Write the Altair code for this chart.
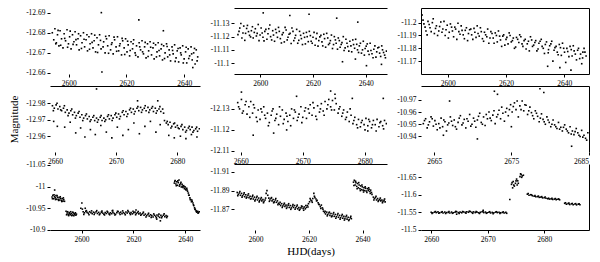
import altair as alt
import pandas as pd

# ---------------- data: (HJD, magnitude) ----------------
P11 = [(2594.3,-12.6800),(2594.8,-12.6765),(2595.2,-12.6820),(2595.7,-12.6750),(2596.1,-12.6790),(2596.6,-12.6735),
(2597.0,-12.6810),(2597.5,-12.6770),(2598.0,-12.6725),(2598.4,-12.6795),(2598.9,-12.6760),(2599.4,-12.6815),(2599.9,-12.6745),
(2600.3,-12.6780),(2600.8,-12.6720),(2601.3,-12.6790),(2601.8,-12.6755),(2602.2,-12.6805),(2602.7,-12.6740),(2603.2,-12.6770),
(2603.6,-12.6715),(2604.1,-12.6785),(2604.6,-12.6750),(2605.1,-12.6800),(2605.5,-12.6730),(2606.0,-12.6765),(2606.5,-12.6710),
(2607.0,-12.6780),(2607.4,-12.6745),(2607.9,-12.6795),(2608.4,-12.6725),(2608.8,-12.6760),(2609.3,-12.6705),(2609.8,-12.6775),
(2610.3,-12.6740),(2610.7,-12.6790),(2611.2,-12.6720),(2611.3,-12.6900),(2611.5,-12.6605),(2612.1,-12.6755),(2612.6,-12.6700),
(2613.1,-12.6770),(2613.5,-12.6735),(2614.0,-12.6785),(2614.5,-12.6715),(2615.0,-12.6750),(2615.4,-12.6695),(2615.9,-12.6765),
(2616.4,-12.6730),(2616.9,-12.6780),(2617.3,-12.6710),(2617.8,-12.6745),(2618.3,-12.6690),(2618.7,-12.6760),(2619.2,-12.6725),
(2619.7,-12.6770),(2620.2,-12.6705),(2620.6,-12.6740),(2621.1,-12.6685),(2621.6,-12.6755),(2622.1,-12.6720),(2622.5,-12.6765),
(2623.0,-12.6700),(2623.5,-12.6735),(2624.0,-12.6680),(2624.3,-12.6864),(2624.4,-12.6750),(2624.9,-12.6715),(2625.4,-12.6760),
(2625.9,-12.6695),(2626.3,-12.6730),(2626.8,-12.6675),(2627.3,-12.6745),(2627.7,-12.6710),(2628.2,-12.6755),(2628.7,-12.6690),
(2629.2,-12.6725),(2629.6,-12.6670),(2630.1,-12.6740),(2630.6,-12.6705),(2631.0,-12.6750),(2631.5,-12.6685),(2632.0,-12.6720),
(2632.5,-12.6665),(2632.8,-12.6810),(2632.9,-12.6735),(2633.4,-12.6700),(2633.9,-12.6745),(2634.3,-12.6680),(2634.8,-12.6715),
(2635.3,-12.6660),(2635.8,-12.6730),(2636.2,-12.6695),(2636.7,-12.6740),(2637.2,-12.6675),(2637.6,-12.6710),(2638.1,-12.6655),
(2638.6,-12.6725),(2639.0,-12.6690),(2639.5,-12.6735),(2640.0,-12.6670),(2640.5,-12.6705),(2640.9,-12.6650),(2641.4,-12.6720),
(2641.9,-12.6685),(2642.4,-12.6730),(2642.8,-12.6665),(2643.0,-12.6627),(2643.3,-12.6700),(2643.8,-12.6645),(2644.2,-12.6715),
(2644.7,-12.6680),
(2595.5,-12.6745),(2596.3,-12.6812),(2597.2,-12.6738),(2598.6,-12.6772),(2599.6,-12.6728),(2600.5,-12.6808),(2601.5,-12.6742),
(2602.5,-12.6766),(2603.4,-12.6795),(2604.4,-12.6722),(2605.3,-12.6768),(2606.3,-12.6790),(2607.2,-12.6718),(2608.1,-12.6752),
(2609.0,-12.6788),(2610.0,-12.6702),(2611.0,-12.6762),(2611.9,-12.6730),(2612.8,-12.6782),(2613.8,-12.6698),(2614.8,-12.6742),
(2615.7,-12.6778),(2616.6,-12.6708),(2617.6,-12.6735),(2618.5,-12.6772),(2619.4,-12.6692),(2620.4,-12.6758),(2621.3,-12.6712),
(2622.3,-12.6745),(2623.2,-12.6688),(2624.6,-12.6730),(2625.6,-12.6705),(2626.5,-12.6752),(2627.5,-12.6682),(2628.4,-12.6728),
(2629.4,-12.6748),(2630.4,-12.6680),(2631.3,-12.6712),(2632.2,-12.6742),(2633.2,-12.6672),(2634.1,-12.6732),(2635.0,-12.6690),
(2636.0,-12.6712),(2636.9,-12.6658),(2637.9,-12.6722),(2638.8,-12.6700),(2639.7,-12.6650),(2640.7,-12.6728),(2641.6,-12.6672),
(2642.6,-12.6695),(2643.6,-12.6722),(2644.5,-12.6660)]

P12 = [(2591.5,-11.1215),(2592.2,-11.1265),(2593.0,-11.1190),(2593.7,-11.1280),(2594.4,-11.1225),(2595.1,-11.1285),
(2595.9,-11.1210),(2596.6,-11.1245),(2597.3,-11.1190),(2598.1,-11.1260),(2598.8,-11.1225),(2599.5,-11.1170),(2600.3,-11.1265),
(2601.0,-11.1195),(2601.1,-11.1380),(2601.7,-11.1240),(2602.5,-11.1180),(2603.2,-11.1260),(2603.9,-11.1200),(2604.7,-11.1245),
(2605.4,-11.1165),(2606.1,-11.1230),(2606.9,-11.1270),(2607.6,-11.1185),(2608.3,-11.1215),(2609.1,-11.1160),(2609.8,-11.1250),
(2610.5,-11.1195),(2611.2,-11.1360),(2611.3,-11.1225),(2612.0,-11.1265),(2612.7,-11.1170),(2613.4,-11.1210),(2614.2,-11.1150),
(2614.9,-11.1240),(2615.6,-11.1185),(2616.4,-11.1225),(2617.1,-11.1145),(2617.8,-11.1200),(2618.5,-11.1370),(2618.6,-11.1240),
(2619.3,-11.1165),(2620.0,-11.1195),(2620.8,-11.1135),(2621.5,-11.1225),(2622.2,-11.1170),(2623.0,-11.1210),(2623.7,-11.1130),
(2624.4,-11.1185),(2625.2,-11.1225),(2625.9,-11.1140),(2626.6,-11.1170),(2627.4,-11.1110),(2628.1,-11.1200),(2628.8,-11.1150),
(2629.0,-11.1340),(2629.6,-11.1190),(2630.3,-11.1120),(2631.0,-11.1155),(2631.2,-11.1010),(2631.8,-11.1095),(2632.5,-11.1180),
(2633.2,-11.1125),(2634.0,-11.1165),(2634.7,-11.1085),(2635.4,-11.1140),(2636.1,-11.1030),(2636.2,-11.1180),(2636.9,-11.1100),
(2637.0,-11.1310),(2637.6,-11.1130),(2638.4,-11.1075),(2639.1,-11.1165),(2639.8,-11.1110),(2640.3,-11.0980),(2640.6,-11.1145),
(2641.3,-11.1065),(2642.0,-11.1095),(2642.8,-11.1040),(2643.5,-11.1130),(2644.2,-11.1085),(2645.0,-11.1120),(2645.7,-11.1050),
(2646.0,-11.0990),(2646.4,-11.1100),(2647.2,-11.1060),(2647.9,-11.1090),
(2591.9,-11.1240),(2592.6,-11.1300),(2593.4,-11.1228),(2594.1,-11.1172),(2594.8,-11.1262),(2595.5,-11.1238),(2596.3,-11.1198),
(2597.0,-11.1275),(2597.7,-11.1232),(2598.5,-11.1205),(2599.2,-11.1292),(2599.9,-11.1212),(2600.7,-11.1228),(2601.4,-11.1168),
(2602.1,-11.1255),(2602.9,-11.1222),(2603.6,-11.1288),(2604.3,-11.1175),(2605.0,-11.1212),(2605.8,-11.1255),(2606.5,-11.1195),
(2607.2,-11.1240),(2608.0,-11.1152),(2608.7,-11.1230),(2609.4,-11.1270),(2610.2,-11.1175),(2610.9,-11.1218),(2611.7,-11.1148),
(2612.4,-11.1240),(2613.1,-11.1190),(2613.8,-11.1255),(2614.6,-11.1172),(2615.3,-11.1210),(2616.0,-11.1140),(2616.8,-11.1195),
(2617.5,-11.1232),(2618.2,-11.1162),(2619.0,-11.1208),(2619.7,-11.1150),(2620.4,-11.1232),(2621.2,-11.1185),(2621.9,-11.1128),
(2622.6,-11.1198),(2623.4,-11.1160),(2624.1,-11.1218),(2624.8,-11.1120),(2625.6,-11.1190),(2626.3,-11.1150),(2627.0,-11.1212),
(2627.8,-11.1140),(2628.5,-11.1175),(2629.3,-11.1105),(2630.0,-11.1170),(2630.7,-11.1140),(2631.5,-11.1200),(2632.2,-11.1115),
(2632.9,-11.1150),(2633.6,-11.1090),(2634.4,-11.1130),(2635.1,-11.1175),(2635.8,-11.1112),(2636.6,-11.1142),(2637.3,-11.1080),
(2638.0,-11.1150),(2638.8,-11.1100),(2639.5,-11.1060),(2640.2,-11.1128),(2640.9,-11.1090),(2641.7,-11.1150),(2642.4,-11.1070),
(2643.1,-11.1105),(2643.9,-11.1045),(2644.6,-11.1115),(2645.3,-11.1075),(2646.1,-11.1130),(2646.8,-11.1080),(2647.5,-11.1040)]

P13 = [(2591.2,-11.2060),(2591.8,-11.1990),(2592.5,-11.1935),(2593.2,-11.2010),(2593.9,-11.1960),(2594.7,-11.2000),
(2595.4,-11.1915),(2596.1,-11.1975),(2596.9,-11.1935),(2597.6,-11.2005),(2598.3,-11.1950),(2599.1,-11.1900),(2599.8,-11.1980),
(2600.5,-11.1925),(2601.3,-11.1965),(2602.0,-11.1890),(2602.7,-11.1950),(2603.5,-11.1995),(2604.2,-11.1910),(2604.9,-11.1940),
(2605.7,-11.1875),(2606.4,-11.1960),(2607.1,-11.1915),(2607.9,-11.1950),(2608.6,-11.1870),(2609.3,-11.1925),(2610.1,-11.1975),
(2610.8,-11.1895),(2611.5,-11.1930),(2612.3,-11.1855),(2613.0,-11.1905),(2613.7,-11.1950),(2614.5,-11.1880),(2615.2,-11.1915),
(2615.9,-11.1840),(2616.7,-11.1900),(2617.4,-11.1935),(2618.1,-11.1865),(2618.9,-11.1895),(2619.6,-11.1825),(2620.3,-11.1885),
(2621.1,-11.1920),(2621.8,-11.1850),(2622.5,-11.1880),(2623.3,-11.1810),(2624.0,-11.1870),(2624.7,-11.1905),(2625.5,-11.1835),
(2626.2,-11.1860),(2626.9,-11.1795),(2627.7,-11.1855),(2628.4,-11.1890),(2629.1,-11.1815),(2629.9,-11.1845),(2630.6,-11.1780),
(2631.3,-11.1840),(2632.1,-11.1870),(2632.8,-11.1800),(2633.5,-11.1830),(2634.3,-11.1660),(2634.5,-11.1765),(2635.0,-11.1820),
(2635.7,-11.1855),(2636.5,-11.1785),(2637.2,-11.1815),(2637.9,-11.1750),(2638.5,-11.1650),(2638.7,-11.1805),(2639.4,-11.1840),
(2640.1,-11.1770),(2640.9,-11.1800),(2641.6,-11.1735),(2642.3,-11.1630),(2642.4,-11.1790),(2643.1,-11.1820),(2643.8,-11.1755),
(2644.6,-11.1785),(2645.3,-11.1720),(2646.0,-11.1680),(2646.4,-11.1770),(2646.8,-11.1800),(2647.5,-11.1740),
(2591.5,-11.2020),(2592.2,-11.1965),(2592.9,-11.1905),(2593.6,-11.1985),(2594.3,-11.1930),(2595.0,-11.2030),(2595.8,-11.1955),
(2596.5,-11.1900),(2597.2,-11.1970),(2598.0,-11.1925),(2598.7,-11.2010),(2599.4,-11.1945),(2600.2,-11.1880),(2600.9,-11.1990),
(2601.6,-11.1935),(2602.4,-11.1965),(2603.1,-11.1870),(2603.8,-11.1930),(2604.6,-11.1975),(2605.3,-11.1905),(2606.0,-11.1940),
(2606.8,-11.1860),(2607.5,-11.1945),(2608.2,-11.1905),(2609.0,-11.1955),(2609.7,-11.1885),(2610.4,-11.1915),(2611.2,-11.1960),
(2611.9,-11.1875),(2612.6,-11.1925),(2613.4,-11.1890),(2614.1,-11.1840),(2614.8,-11.1930),(2615.6,-11.1880),(2616.3,-11.1920),
(2617.0,-11.1850),(2617.8,-11.1895),(2618.5,-11.1815),(2619.2,-11.1905),(2620.0,-11.1870),(2620.7,-11.1835),(2621.4,-11.1900),
(2622.2,-11.1860),(2622.9,-11.1800),(2623.6,-11.1885),(2624.4,-11.1845),(2625.1,-11.1890),(2625.8,-11.1815),(2626.6,-11.1870),
(2627.3,-11.1835),(2628.0,-11.1780),(2628.8,-11.1865),(2629.5,-11.1825),(2630.2,-11.1860),(2631.0,-11.1795),(2631.7,-11.1855),
(2632.4,-11.1815),(2633.2,-11.1760),(2633.9,-11.1850),(2634.6,-11.1790),(2635.4,-11.1835),(2636.1,-11.1700),(2636.8,-11.1805),
(2637.6,-11.1770),(2638.3,-11.1830),(2639.0,-11.1745),(2639.8,-11.1800),(2640.5,-11.1690),(2641.2,-11.1775),(2642.0,-11.1815),
(2642.7,-11.1740),(2643.4,-11.1780),(2644.2,-11.1710),(2644.9,-11.1800),(2645.6,-11.1755),(2646.3,-11.1725),(2647.1,-11.1770)]

P21 = [(2659.6,-12.9785),(2659.9,-12.9770),(2660.2,-12.9790),(2660.5,-12.9765),(2660.8,-12.9780),(2661.1,-12.9755),
(2661.4,-12.9770),(2661.7,-12.9745),(2662.0,-12.9760),(2662.3,-12.9740),(2662.6,-12.9755),(2662.9,-12.9730),(2663.2,-12.9745),
(2663.5,-12.9725),(2663.8,-12.9740),(2664.1,-12.9715),(2664.4,-12.9730),(2664.7,-12.9710),(2665.0,-12.9725),(2665.3,-12.9705),
(2665.6,-12.9720),(2665.9,-12.9700),(2666.2,-12.9715),(2666.5,-12.9695),(2666.8,-12.9710),(2667.1,-12.9700),(2667.4,-12.9715),
(2667.7,-12.9695),(2668.0,-12.9710),(2668.3,-12.9700),(2668.6,-12.9720),(2668.9,-12.9705),(2669.2,-12.9725),(2669.5,-12.9710),
(2669.8,-12.9730),(2670.1,-12.9715),(2670.4,-12.9735),(2670.7,-12.9720),(2671.0,-12.9745),(2671.3,-12.9730),(2671.6,-12.9750),
(2671.9,-12.9735),(2672.2,-12.9760),(2672.5,-12.9745),(2672.8,-12.9765),(2673.1,-12.9750),(2673.4,-12.9770),(2673.7,-12.9755),
(2674.0,-12.9775),(2674.3,-12.9760),(2674.6,-12.9770),(2674.9,-12.9755),(2675.2,-12.9775),(2675.5,-12.9760),(2675.8,-12.9770),
(2676.1,-12.9750),(2676.4,-12.9770),(2676.7,-12.9755),(2677.0,-12.9765),(2677.3,-12.9750),(2677.6,-12.9765),(2677.9,-12.9695),
(2678.2,-12.9680),(2678.5,-12.9670),(2678.8,-12.9685),(2679.1,-12.9660),(2679.4,-12.9675),(2679.7,-12.9655),(2680.0,-12.9665),
(2680.3,-12.9645),(2680.6,-12.9660),(2680.9,-12.9640),(2681.2,-12.9655),(2681.5,-12.9635),(2681.8,-12.9650),(2682.1,-12.9640),
(2682.4,-12.9655),(2682.7,-12.9635),(2683.0,-12.9645),(2683.3,-12.9630),(2683.6,-12.9645),
(2659.8,-12.9690),(2660.4,-12.9660),(2661.6,-12.9655),(2662.5,-12.9685),(2663.4,-12.9620),(2664.2,-12.9650),(2664.9,-12.9595),
(2665.8,-12.9640),(2666.6,-12.9610),(2667.5,-12.9665),(2668.4,-12.9625),(2669.3,-12.9590),(2670.2,-12.9655),(2671.1,-12.9605),
(2672.0,-12.9640),(2672.9,-12.9680),(2673.8,-12.9615),(2674.7,-12.9660),(2675.6,-12.9690),(2676.5,-12.9625),(2677.2,-12.9670),
(2678.6,-12.9605),(2679.5,-12.9590),(2680.5,-12.9600),(2681.4,-12.9585),(2682.3,-12.9610),(2683.2,-12.9595),
(2666.8,-12.9887),(2673.5,-12.9815),(2676.8,-12.9815),
(2659.75,-12.9755),(2660.35,-12.9800),(2660.95,-12.9760),(2661.55,-12.9785),(2662.15,-12.9725),(2662.75,-12.9765),
(2663.35,-12.9710),(2663.95,-12.9750),(2664.55,-12.9695),(2665.15,-12.9735),(2665.75,-12.9690),(2666.35,-12.9725),
(2666.95,-12.9685),(2667.55,-12.9725),(2668.15,-12.9690),(2668.75,-12.9730),(2669.35,-12.9695),(2669.95,-12.9740),
(2670.55,-12.9705),(2671.15,-12.9755),(2671.75,-12.9720),(2672.35,-12.9770),(2672.95,-12.9735),(2673.55,-12.9780),
(2674.15,-12.9745),(2674.75,-12.9785),(2675.35,-12.9745),(2675.95,-12.9780),(2676.55,-12.9740),(2677.15,-12.9780),
(2677.75,-12.9740),(2678.35,-12.9690),(2678.95,-12.9650),(2679.55,-12.9680),(2680.15,-12.9650),(2680.75,-12.9670),
(2681.35,-12.9625),(2681.95,-12.9660),(2682.55,-12.9625),(2683.15,-12.9655)]

P22 = [(2659.5,-12.1330),(2659.8,-12.1300),(2660.1,-12.1345),(2660.4,-12.1290),(2660.7,-12.1320),(2661.0,-12.1275),
(2661.3,-12.1310),(2661.6,-12.1335),(2661.9,-12.1280),(2662.2,-12.1305),(2662.5,-12.1260),(2662.8,-12.1295),(2663.1,-12.1250),
(2663.4,-12.1285),(2663.7,-12.1310),(2664.0,-12.1255),(2664.3,-12.1280),(2664.6,-12.1235),(2664.9,-12.1270),(2665.2,-12.1300),
(2665.5,-12.1245),(2665.8,-12.1275),(2666.1,-12.1225),(2666.4,-12.1265),(2666.7,-12.1295),(2667.0,-12.1250),(2667.3,-12.1280),
(2667.6,-12.1240),(2667.9,-12.1270),(2668.2,-12.1300),(2668.5,-12.1255),(2668.8,-12.1285),(2669.1,-12.1245),(2669.4,-12.1275),
(2669.7,-12.1310),(2670.0,-12.1260),(2670.3,-12.1290),(2670.6,-12.1255),(2670.9,-12.1300),(2671.2,-12.1320),(2671.5,-12.1270),
(2671.8,-12.1305),(2672.1,-12.1265),(2672.4,-12.1315),(2672.7,-12.1285),(2673.0,-12.1325),(2673.3,-12.1290),(2673.6,-12.1335),
(2673.9,-12.1300),(2674.2,-12.1345),(2674.5,-12.1310),(2674.8,-12.1340),(2675.1,-12.1295),(2675.4,-12.1325),(2675.7,-12.1280),
(2676.0,-12.1310),(2676.3,-12.1265),(2676.6,-12.1295),(2676.9,-12.1250),(2677.2,-12.1285),(2677.5,-12.1240),(2677.8,-12.1270),
(2678.1,-12.1230),(2678.4,-12.1260),(2678.7,-12.1225),(2679.0,-12.1250),(2679.3,-12.1215),(2679.6,-12.1245),(2679.9,-12.1225),
(2680.2,-12.1255),(2680.5,-12.1220),(2680.8,-12.1240),(2681.1,-12.1210),(2681.4,-12.1245),(2681.7,-12.1225),(2682.0,-12.1250),
(2682.3,-12.1215),(2682.6,-12.1240),(2682.9,-12.1220),(2683.2,-12.1245),(2683.5,-12.1230),
(2660.1,-12.1380),(2662.0,-12.1175),(2665.3,-12.1185),(2667.4,-12.1200),(2669.0,-12.1360),(2674.5,-12.1385),(2675.2,-12.1370),
(2678.0,-12.1350),(2680.5,-12.1195),(2683.0,-12.1350),
(2659.65,-12.1310),(2660.25,-12.1280),(2660.85,-12.1335),(2661.45,-12.1260),(2662.05,-12.1320),(2662.65,-12.1240),
(2663.25,-12.1300),(2663.85,-12.1270),(2664.45,-12.1220),(2665.05,-12.1290),(2665.65,-12.1255),(2666.25,-12.1310),
(2666.85,-12.1230),(2667.45,-12.1265),(2668.05,-12.1220),(2668.65,-12.1295),(2669.25,-12.1260),(2669.85,-12.1235),
(2670.45,-12.1305),(2671.05,-12.1280),(2671.65,-12.1330),(2672.25,-12.1250),(2672.85,-12.1300),(2673.45,-12.1270),
(2674.05,-12.1320),(2674.65,-12.1295),(2675.25,-12.1350),(2675.85,-12.1300),(2676.45,-12.1280),(2677.05,-12.1260),
(2677.65,-12.1300),(2678.25,-12.1245),(2678.85,-12.1210),(2679.45,-12.1235),(2680.05,-12.1200),(2680.65,-12.1250),
(2681.25,-12.1225),(2681.85,-12.1195),(2682.45,-12.1235),(2683.05,-12.1205)]

P23 = [(2663.6,-10.9505),(2663.9,-10.9545),(2664.1,-10.9470),(2664.4,-10.9520),(2664.6,-10.9560),(2664.9,-10.9485),
(2665.1,-10.9530),(2665.4,-10.9455),(2665.6,-10.9505),(2665.9,-10.9550),(2666.1,-10.9480),(2666.4,-10.9520),(2666.6,-10.9445),
(2666.9,-10.9510),(2667.1,-10.9560),(2667.4,-10.9490),(2667.6,-10.9535),(2667.9,-10.9460),(2668.1,-10.9515),(2668.4,-10.9570),
(2668.6,-10.9495),(2668.9,-10.9540),(2669.1,-10.9470),(2669.4,-10.9525),(2669.6,-10.9580),(2669.9,-10.9500),(2670.1,-10.9550),
(2670.4,-10.9475),(2670.6,-10.9535),(2670.9,-10.9590),(2671.1,-10.9515),(2671.4,-10.9560),(2671.6,-10.9490),(2671.9,-10.9545),
(2672.1,-10.9600),(2672.4,-10.9530),(2672.6,-10.9575),(2672.9,-10.9505),(2673.1,-10.9560),(2673.4,-10.9615),(2673.6,-10.9545),
(2673.9,-10.9590),(2674.1,-10.9525),(2674.4,-10.9630),(2674.6,-10.9570),(2674.9,-10.9660),(2675.1,-10.9600),(2675.4,-10.9675),
(2675.6,-10.9620),(2675.9,-10.9560),(2676.1,-10.9650),(2676.4,-10.9690),(2676.6,-10.9610),(2676.9,-10.9655),(2677.1,-10.9580),
(2677.4,-10.9640),(2677.6,-10.9595),(2677.9,-10.9545),(2678.1,-10.9610),(2678.4,-10.9565),(2678.6,-10.9520),(2678.9,-10.9585),
(2679.1,-10.9540),(2679.4,-10.9500),(2679.6,-10.9560),(2679.9,-10.9515),(2680.1,-10.9480),(2680.4,-10.9535),(2680.6,-10.9495),
(2680.9,-10.9465),(2681.1,-10.9515),(2681.4,-10.9475),(2681.6,-10.9445),(2681.9,-10.9495),(2682.1,-10.9460),(2682.4,-10.9430),
(2682.6,-10.9480),(2682.9,-10.9445),(2683.1,-10.9415),(2683.4,-10.9465),(2683.6,-10.9430),(2683.9,-10.9400),(2684.1,-10.9450),
(2684.4,-10.9410),(2684.6,-10.9385),(2684.9,-10.9430),
(2667.0,-10.9690),(2672.8,-10.9770),(2673.2,-10.9745),(2679.2,-10.9760),(2678.7,-10.9790),(2670.6,-10.9380),(2682.8,-10.9320),
(2666.2,-10.9410),(2675.0,-10.9480),
(2663.75,-10.9530),(2664.25,-10.9495),(2664.75,-10.9545),(2665.25,-10.9500),(2665.75,-10.9470),(2666.25,-10.9535),
(2666.75,-10.9495),(2667.25,-10.9525),(2667.75,-10.9480),(2668.25,-10.9550),(2668.75,-10.9510),(2669.25,-10.9545),
(2669.75,-10.9485),(2670.25,-10.9525),(2670.75,-10.9565),(2671.25,-10.9500),(2671.75,-10.9580),(2672.25,-10.9550),
(2672.75,-10.9610),(2673.25,-10.9580),(2673.75,-10.9640),(2674.25,-10.9600),(2674.75,-10.9620),(2675.25,-10.9645),
(2675.75,-10.9690),(2676.25,-10.9620),(2676.75,-10.9660),(2677.25,-10.9610),(2677.75,-10.9570),(2678.25,-10.9590),
(2678.75,-10.9550),(2679.25,-10.9520),(2679.75,-10.9535),(2680.25,-10.9500),(2680.75,-10.9480),(2681.25,-10.9460),
(2681.75,-10.9475),(2682.25,-10.9445),(2682.75,-10.9420),(2683.25,-10.9440),(2683.75,-10.9410),(2684.25,-10.9395),
(2684.75,-10.9370)]

P31 = [(2588.6,-10.9760),(2588.9,-10.9800),(2589.2,-10.9720),(2589.5,-10.9770),(2589.6,-10.9920),(2589.8,-10.9740),
(2590.1,-10.9790),(2590.4,-10.9710),(2590.7,-10.9755),(2591.0,-10.9700),(2591.3,-10.9745),(2591.6,-10.9690),(2591.9,-10.9730),
(2592.2,-10.9680),(2592.5,-10.9720),(2592.8,-10.9665),(2593.1,-10.9700),(2593.4,-10.9660),
(2594.0,-10.9430),(2594.4,-10.9390),(2594.8,-10.9360),(2595.2,-10.9400),(2595.6,-10.9350),(2596.0,-10.9380),(2596.4,-10.9345),
(2596.8,-10.9390),(2597.2,-10.9355),(2597.6,-10.9395),(2598.0,-10.9365),(2599.7,-10.9500),(2600.1,-10.9620),(2600.3,-10.9480),
(2600.6,-10.9420),(2601.1,-10.9395),(2601.4,-10.9500),(2601.6,-10.9430),(2602.1,-10.9405),(2602.6,-10.9385),(2603.1,-10.9420),
(2603.6,-10.9395),(2604.1,-10.9375),(2604.6,-10.9410),(2605.1,-10.9390),(2605.6,-10.9420),(2606.1,-10.9380),(2606.6,-10.9405),
(2607.1,-10.9375),(2607.6,-10.9410),(2608.1,-10.9390),(2608.6,-10.9365),(2609.1,-10.9400),(2609.6,-10.9380),(2610.1,-10.9410),
(2610.6,-10.9370),(2611.1,-10.9395),(2611.6,-10.9375),(2612.0,-10.9450),(2612.1,-10.9405),(2612.6,-10.9380),(2613.1,-10.9360),
(2613.6,-10.9395),(2614.1,-10.9425),(2614.6,-10.9390),(2615.1,-10.9410),(2615.6,-10.9375),(2616.1,-10.9400),(2616.6,-10.9380),
(2617.1,-10.9415),(2617.6,-10.9390),(2618.1,-10.9420),(2618.6,-10.9385),(2619.1,-10.9400),(2619.6,-10.9370),(2620.1,-10.9395),
(2620.6,-10.9410),(2621.0,-10.9460),(2621.1,-10.9380),(2621.6,-10.9400),(2622.1,-10.9370),(2622.6,-10.9390),(2623.1,-10.9360),
(2623.6,-10.9380),(2624.1,-10.9340),(2624.6,-10.9365),(2625.1,-10.9330),(2625.6,-10.9355),(2626.1,-10.9320),(2626.6,-10.9350),
(2627.1,-10.9330),(2627.6,-10.9300),(2628.1,-10.9340),(2628.6,-10.9315),(2629.0,-10.9250),(2629.1,-10.9345),(2629.6,-10.9320),
(2630.1,-10.9290),(2630.4,-10.9210),(2630.6,-10.9335),(2631.1,-10.9310),(2631.6,-10.9340),(2632.1,-10.9305),(2632.6,-10.9330),
(2633.1,-10.9315),
(2635.8,-11.0080),(2636.1,-11.0140),(2636.4,-11.0060),(2636.7,-11.0110),(2637.0,-11.0030),(2637.3,-11.0090),(2637.6,-11.0150),
(2637.9,-11.0040),(2638.2,-11.0070),(2638.5,-10.9990),(2638.8,-11.0050),(2639.1,-10.9980),(2639.4,-11.0020),(2639.7,-10.9950),
(2640.0,-10.9990),(2640.3,-10.9920),(2640.6,-10.9960),(2640.9,-10.9890),(2641.2,-10.9850),(2641.5,-10.9800),(2641.8,-10.9740),
(2642.1,-10.9700),(2642.4,-10.9650),(2642.7,-10.9660),(2643.0,-10.9620),(2643.3,-10.9560),(2643.6,-10.9510),(2643.9,-10.9470),
(2644.2,-10.9440),(2644.5,-10.9410),(2644.8,-10.9430),(2645.1,-10.9400),(2645.4,-10.9420),
(2588.75,-10.9720),(2589.35,-10.9810),(2589.95,-10.9700),(2590.55,-10.9790),(2591.15,-10.9680),(2591.75,-10.9765),
(2592.35,-10.9655),(2592.95,-10.9740),
(2594.2,-10.9350),(2594.6,-10.9420),(2595.0,-10.9330),(2595.4,-10.9375),(2595.8,-10.9420),(2596.2,-10.9330),(2596.6,-10.9410),
(2597.0,-10.9330),(2597.4,-10.9370),(2597.8,-10.9340),
(2600.85,-10.9360),(2601.85,-10.9445),(2602.85,-10.9350),(2603.85,-10.9440),(2604.85,-10.9355),(2605.85,-10.9445),
(2606.85,-10.9350),(2607.85,-10.9435),(2608.85,-10.9345),(2609.85,-10.9430),(2610.85,-10.9350),(2611.85,-10.9440),
(2612.85,-10.9345),(2613.85,-10.9430),(2614.85,-10.9355),(2615.85,-10.9440),(2616.85,-10.9350),(2617.85,-10.9445),
(2618.85,-10.9355),(2619.85,-10.9430),(2620.85,-10.9350),(2621.85,-10.9425),(2622.85,-10.9340),(2623.85,-10.9410),
(2624.85,-10.9300),(2625.85,-10.9385),(2626.85,-10.9290),(2627.85,-10.9370),(2628.85,-10.9280),(2629.85,-10.9365),
(2630.85,-10.9280),(2631.85,-10.9370),(2632.85,-10.9285),
(2635.95,-11.0120),(2636.55,-11.0020),(2637.15,-11.0130),(2637.75,-11.0010),(2638.35,-11.0100),(2638.95,-11.0010),
(2639.55,-10.9995),(2640.15,-10.9940),(2640.75,-10.9920),(2641.35,-10.9800),(2641.95,-10.9700),(2642.55,-10.9690),
(2643.15,-10.9580),(2643.75,-10.9480),(2644.35,-10.9420),(2644.95,-10.9385)]

P32 = [(2593.2,-11.8880),(2593.6,-11.8860),(2594.0,-11.8875),(2594.4,-11.8850),(2594.8,-11.8870),(2595.2,-11.8845),
(2595.6,-11.8860),(2596.0,-11.8835),(2596.4,-11.8855),(2596.8,-11.8830),(2597.2,-11.8850),(2597.6,-11.8825),(2598.0,-11.8840),
(2598.4,-11.8815),(2598.8,-11.8835),(2599.2,-11.8810),(2599.6,-11.8830),(2600.0,-11.8805),(2600.4,-11.8825),(2600.8,-11.8800),
(2601.2,-11.8820),(2601.6,-11.8795),(2602.0,-11.8810),(2602.4,-11.8790),(2602.8,-11.8805),(2603.2,-11.8785),(2603.6,-11.8800),
(2604.0,-11.8870),(2604.3,-11.8900),(2604.6,-11.8850),(2605.0,-11.8820),(2605.4,-11.8800),(2605.8,-11.8815),(2606.2,-11.8790),
(2606.6,-11.8805),(2607.0,-11.8780),(2607.4,-11.8800),(2607.8,-11.8775),(2608.2,-11.8790),(2608.6,-11.8765),(2609.0,-11.8755),
(2609.4,-11.8740),(2609.8,-11.8760),(2610.2,-11.8735),(2610.6,-11.8750),(2611.0,-11.8730),(2611.4,-11.8745),(2611.8,-11.8725),
(2612.2,-11.8745),(2612.6,-11.8720),(2613.0,-11.8740),(2613.4,-11.8715),(2613.8,-11.8735),(2614.2,-11.8720),(2614.6,-11.8740),
(2615.0,-11.8715),(2615.4,-11.8730),(2615.8,-11.8705),(2616.2,-11.8720),(2616.6,-11.8700),(2617.0,-11.8715),(2617.4,-11.8730),
(2617.8,-11.8710),(2618.2,-11.8725),(2618.6,-11.8705),(2619.0,-11.8720),(2619.4,-11.8740),(2619.8,-11.8760),(2620.2,-11.8780),
(2620.6,-11.8800),(2621.0,-11.8790),(2621.4,-11.8815),(2621.8,-11.8870),(2622.2,-11.8825),(2622.6,-11.8810),(2623.0,-11.8795),
(2623.4,-11.8770),(2623.8,-11.8750),(2624.2,-11.8730),(2624.6,-11.8745),(2625.0,-11.8715),(2625.4,-11.8680),(2625.8,-11.8665),
(2626.2,-11.8650),(2626.6,-11.8670),(2627.0,-11.8645),(2627.4,-11.8660),(2627.8,-11.8635),(2628.2,-11.8655),(2628.6,-11.8630),
(2629.0,-11.8650),(2629.4,-11.8625),(2629.8,-11.8645),(2630.2,-11.8620),(2630.6,-11.8640),(2631.0,-11.8615),(2631.4,-11.8635),
(2631.8,-11.8610),(2632.2,-11.8630),(2632.6,-11.8605),(2633.0,-11.8625),(2633.4,-11.8600),(2633.8,-11.8620),(2634.2,-11.8595),
(2634.6,-11.8615),(2635.0,-11.8590),(2635.4,-11.8610),(2635.8,-11.8600),
(2636.6,-11.8990),(2636.9,-11.9010),(2637.2,-11.8960),(2637.5,-11.8985),(2637.8,-11.8945),(2638.1,-11.8975),(2638.4,-11.8930),
(2638.7,-11.8960),(2639.0,-11.8920),(2639.3,-11.8950),(2639.6,-11.8910),(2639.9,-11.8940),(2640.2,-11.8905),(2640.5,-11.8930),
(2640.8,-11.8900),(2641.1,-11.8925),(2641.4,-11.8895),(2641.8,-11.8920),(2642.1,-11.8900),(2642.4,-11.8915),(2642.7,-11.8890),
(2643.0,-11.8905),(2643.3,-11.8880),(2644.0,-11.8830),(2644.4,-11.8815),(2644.8,-11.8825),(2645.2,-11.8800),(2645.6,-11.8815),
(2646.0,-11.8795),(2646.4,-11.8805),(2646.8,-11.8790),(2647.2,-11.8800),(2647.6,-11.8785),(2648.0,-11.8795),(2648.4,-11.8780),
(2593.4,-11.8845),(2594.2,-11.8890),(2595.0,-11.8830),(2595.8,-11.8875),(2596.6,-11.8820),(2597.4,-11.8865),(2598.2,-11.8810),
(2599.0,-11.8850),(2599.8,-11.8790),(2600.6,-11.8840),(2601.4,-11.8780),(2602.2,-11.8825),(2603.0,-11.8770),(2603.8,-11.8820),
(2605.2,-11.8785),(2606.0,-11.8825),(2606.8,-11.8770),(2607.6,-11.8815),(2608.4,-11.8750),(2609.2,-11.8775),(2610.0,-11.8720),
(2610.8,-11.8765),(2611.6,-11.8710),(2612.4,-11.8760),(2613.2,-11.8700),(2614.0,-11.8750),(2614.8,-11.8700),(2615.6,-11.8745),
(2616.4,-11.8690),(2617.2,-11.8735),(2618.0,-11.8690),(2618.8,-11.8740),(2619.6,-11.8725),(2620.4,-11.8815),(2621.2,-11.8775),
(2622.0,-11.8840),(2622.8,-11.8790),(2623.6,-11.8755),(2624.4,-11.8710),(2625.2,-11.8700),(2626.0,-11.8680),(2626.8,-11.8630),
(2627.6,-11.8670),(2628.4,-11.8620),(2629.2,-11.8665),(2630.0,-11.8605),(2630.8,-11.8655),(2631.6,-11.8595),(2632.4,-11.8645),
(2633.2,-11.8585),(2634.0,-11.8635),(2634.8,-11.8580),(2635.6,-11.8625),(2636.75,-11.8955),(2637.35,-11.9000),(2637.95,-11.8920),
(2638.55,-11.8985),(2639.15,-11.8900),(2639.75,-11.8960),(2640.35,-11.8885),(2640.95,-11.8940),(2641.6,-11.8880),(2642.25,-11.8930),
(2642.85,-11.8870),(2643.5,-11.8860),(2644.2,-11.8800),(2645.0,-11.8840),(2645.8,-11.8785),(2646.6,-11.8820),(2647.4,-11.8770),
(2648.2,-11.8810)]

P33 = [(2660.0,-11.5505),(2660.3,-11.5490),(2660.6,-11.5510),(2660.9,-11.5495),(2661.2,-11.5515),(2661.5,-11.5490),
(2661.8,-11.5505),(2662.1,-11.5485),(2662.4,-11.5510),(2662.7,-11.5495),(2663.0,-11.5500),(2663.3,-11.5485),(2663.6,-11.5510),
(2663.9,-11.5490),(2664.2,-11.5505),(2664.5,-11.5520),(2664.8,-11.5495),(2665.1,-11.5510),(2665.4,-11.5490),(2665.7,-11.5515),
(2666.0,-11.5500),(2666.3,-11.5520),(2666.6,-11.5505),(2666.9,-11.5525),(2667.2,-11.5500),(2667.5,-11.5515),(2667.8,-11.5495),
(2668.1,-11.5510),(2668.4,-11.5490),(2668.7,-11.5505),(2669.0,-11.5520),(2669.3,-11.5495),(2669.6,-11.5510),(2669.9,-11.5490),
(2670.2,-11.5505),(2670.5,-11.5485),(2670.8,-11.5500),(2671.1,-11.5490),(2671.4,-11.5510),(2671.7,-11.5495),(2672.0,-11.5505),
(2672.3,-11.5490),(2672.6,-11.5500),(2672.9,-11.5485),(2673.2,-11.5500),(2669.2,-11.5560),(2664.5,-11.5450),
(2673.9,-11.5870),(2674.2,-11.6300),(2674.4,-11.6200),(2674.5,-11.6380),(2674.7,-11.6250),(2674.9,-11.6330),(2675.1,-11.6450),
(2675.2,-11.6280),(2675.3,-11.6400),(2675.7,-11.6520),(2675.9,-11.6580),(2676.1,-11.6540),(2676.3,-11.6560),
(2677.0,-11.6020),(2677.3,-11.5990),(2677.6,-11.6005),(2677.9,-11.5975),(2678.2,-11.5960),(2678.5,-11.5945),(2678.8,-11.5950),
(2679.1,-11.5930),(2679.4,-11.5935),(2679.7,-11.5915),(2680.0,-11.5920),(2680.3,-11.5905),(2680.6,-11.5890),(2680.9,-11.5880),
(2681.2,-11.5885),(2681.5,-11.5870),(2681.8,-11.5880),(2682.1,-11.5865),(2682.4,-11.5875),(2682.7,-11.5860),
(2683.6,-11.5760),(2683.9,-11.5735),(2684.2,-11.5750),(2684.5,-11.5725),(2684.8,-11.5745),(2685.1,-11.5720),(2685.4,-11.5740),
(2685.7,-11.5715),(2686.0,-11.5735),(2686.3,-11.5720),
(2660.15,-11.5470),(2660.75,-11.5525),(2661.35,-11.5475),(2661.95,-11.5520),(2662.55,-11.5470),(2663.15,-11.5525),
(2663.75,-11.5475),(2664.35,-11.5530),(2664.95,-11.5470),(2665.55,-11.5525),(2666.15,-11.5480),(2666.75,-11.5535),
(2667.35,-11.5475),(2667.95,-11.5525),(2668.55,-11.5470),(2669.15,-11.5530),(2669.75,-11.5475),(2670.35,-11.5520),
(2670.95,-11.5465),(2671.55,-11.5520),(2672.15,-11.5470),(2672.75,-11.5515),(2673.35,-11.5475),
(2674.3,-11.6350),(2674.6,-11.6280),(2675.0,-11.6400),(2675.4,-11.6330),(2675.8,-11.6600),(2676.0,-11.6500),
(2677.15,-11.6040),(2677.75,-11.6000),(2678.35,-11.5980),(2678.95,-11.5965),(2679.55,-11.5950),(2680.15,-11.5940),
(2680.75,-11.5905),(2681.35,-11.5900),(2681.95,-11.5895),(2682.55,-11.5885),
(2683.75,-11.5775),(2684.35,-11.5765),(2684.95,-11.5755),(2685.55,-11.5750),(2686.15,-11.5745)]

# axis domains / tick values per panel (row-major)
X_DOMAINS = [[2593.5, 2645.5], [2590.0, 2648.1], [2590.8, 2648.5],
             [2659.2, 2683.7], [2658.9, 2683.6], [2663.3, 2685.05],
             [2587.8, 2645.7], [2592.0, 2649.1], [2658.2, 2687.9]]
Y_DOMAINS = [[-12.6923, -12.6595], [-11.1417, -11.0917], [-11.2114, -11.1600],
             [-12.9905, -12.9504], [-12.1409, -12.1095], [-10.9813, -10.9273],
             [-11.052, -10.8999], [-11.9184, -11.8479], [-11.688, -11.4999]]
X_TICKS = [[2600, 2620, 2640]] * 3 + [[2660, 2670, 2680], [2660, 2670, 2680], [2665, 2675, 2685]] + \
          [[2600, 2620, 2640], [2600, 2620, 2640], [2660, 2670, 2680]]
Y_TICKS = [[-12.69, -12.68, -12.67, -12.66], [-11.13, -11.12, -11.11, -11.1], [-11.2, -11.19, -11.18, -11.17],
           [-12.98, -12.97, -12.96], [-12.13, -12.12, -12.11], [-10.97, -10.96, -10.95, -10.94],
           [-11.05, -11, -10.95, -10.9], [-11.91, -11.89, -11.87], [-11.65, -11.6, -11.55, -11.5]]
PANELS = [P11, P12, P13, P21, P22, P23, P31, P32, P33]

FRAMES = [set(), {"top", "bottom"}, {"top", "bottom", "left", "right"},
          {"top"}, set(), {"top", "right"},
          {"bottom"}, {"top"}, {"bottom", "right"}]
WIDTHS = [150, 153, 168]
HEIGHT = 66
FONT = "Liberation Serif"
LABEL = "'' + datum.value"


def make_panel(i):
    pts = PANELS[i]
    df = pd.DataFrame({"t": [p[0] for p in pts], "m": [p[1] for p in pts]})
    frame = FRAMES[i]
    xs = alt.Scale(domain=X_DOMAINS[i], nice=False, zero=False)
    ys = alt.Scale(domain=Y_DOMAINS[i], nice=False, zero=False, reverse=True)

    xkw = dict(values=X_TICKS[i], labelExpr=LABEL, domain=("bottom" in frame), grid=False,
               tickSize=3, labelPadding=2, labelFontSize=7.5, labelFont=FONT)
    ykw = dict(values=Y_TICKS[i], domain=("left" in frame), grid=False,
               tickSize=3, labelPadding=2, labelFontSize=7.5, labelFont=FONT)
    if i == 4:
        ykw["labelExpr"] = "abs(datum.value + 12.12) < 0.000001 ? '-11.12' : '' + datum.value"
    else:
        ykw["labelExpr"] = LABEL
    if i == 3:
        ykw.update(title="Magnitude", titleFontSize=11, titlePadding=6, titleFont=FONT)
    else:
        ykw["title"] = None
    if i == 7:
        xkw.update(title="HJD(days)", titleFontSize=11, titlePadding=3, titleFont=FONT)
    else:
        xkw["title"] = None

    pts_layer = alt.Chart(df).mark_square(size=2.6, color="black", opacity=1, clip=True).encode(
        x=alt.X("t:Q", scale=xs, axis=alt.Axis(**xkw)),
        y=alt.Y("m:Q", scale=ys, axis=alt.Axis(**ykw)),
    )
    layers = [pts_layer]
    if "top" in frame or "right" in frame:
        xa = alt.Axis(orient="top", labels=False, ticks=False, domain=True, grid=False, title=None) \
            if "top" in frame else None
        ya = alt.Axis(orient="right", labels=False, ticks=False, domain=True, grid=False, title=None) \
            if "right" in frame else None
        extra = alt.Chart(df).mark_square(size=1, opacity=0, clip=True).encode(
            x=alt.X("t:Q", scale=xs, axis=xa),
            y=alt.Y("m:Q", scale=ys, axis=ya),
        )
        layers.append(extra)
    ch = alt.layer(*layers).resolve_axis(x="independent", y="independent")
    return ch.properties(width=WIDTHS[i % 3], height=HEIGHT)


charts = [make_panel(i) for i in range(9)]
chart = alt.concat(*charts, columns=3, spacing={"row": 12, "column": 34},
                   bounds="flush", align="each").properties(
    padding=0, background="white"
).configure_view(stroke=None).configure_axis(
    labelFont=FONT, titleFont=FONT, labelColor="black", titleColor="black",
    domainColor="black", tickColor="black", domainWidth=1, tickWidth=1,
    titleFontWeight="normal"
)

chart.save("out.html", embed_options={"renderer": "svg", "actions": False})
